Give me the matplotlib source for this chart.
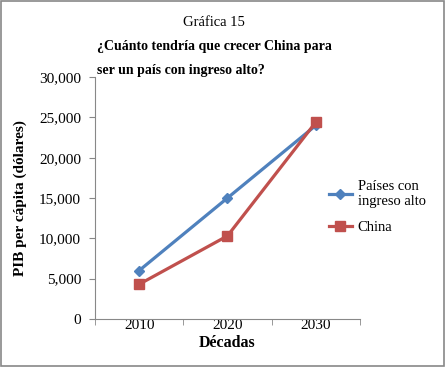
import matplotlib
matplotlib.use("Agg")
import matplotlib.pyplot as plt
from matplotlib.patches import Rectangle

# datos
decadas = ["2010", "2020", "2030"]
altos = [6000, 15000, 24000]
china = [4300, 10300, 24400]
yticks = [0, 5000, 10000, 15000, 20000, 25000, 30000]

plt.rcParams['font.family'] = ['Liberation Serif', 'DejaVu Serif']

fig = plt.figure(figsize=(4.46, 3.67), dpi=100)
fig.patches.append(Rectangle((0.002, 0.003), 0.994, 0.993, transform=fig.transFigure,
                             fill=False, edgecolor='#888888', linewidth=1.2))

ax = fig.add_axes([0.213, 0.131, 0.594, 0.659])
x = list(range(len(decadas)))
ax.plot(x, altos, color='#4F81BD', linewidth=2.3, marker='D', markersize=5.5,
        label='Países con\ningreso alto')
ax.plot(x, china, color='#C0504D', linewidth=2.3, marker='s', markersize=7.5,
        label='China')

ax.set_xlim(-0.5, 2.5)
ax.set_ylim(0, 30000)
ax.set_yticks(yticks)
ax.set_yticklabels([f"{v:,}" for v in yticks])
ax.set_xticks(x)
ax.set_xticklabels(decadas)
ax.set_xticks([-0.5, 0.5, 1.5, 2.5], minor=True)
ax.tick_params(axis='x', which='major', length=0, labelsize=11, pad=0)
ax.tick_params(axis='x', which='minor', length=4, color='#888888')
ax.tick_params(axis='y', length=4, color='#888888', labelsize=11, pad=6)
for s in ['top', 'right']:
    ax.spines[s].set_visible(False)
for s in ['left', 'bottom']:
    ax.spines[s].set_color('#888888')

ax.set_xlabel('Décadas', fontweight='bold', fontsize=11.5, labelpad=2)
ax.set_ylabel('PIB per cápita (dólares)', fontweight='bold', fontsize=11, labelpad=9)

fig.text(0.48, 0.94, 'Gráfica 15', ha='center', va='center', fontsize=10.5)
fig.text(0.217, 0.872, '¿Cuánto tendría que crecer China para',
         ha='left', va='center', fontsize=10, fontweight='bold')
fig.text(0.217, 0.809, 'ser un país con ingreso alto?',
         ha='left', va='center', fontsize=10, fontweight='bold')

ax.legend(loc='upper left', bbox_to_anchor=(0.86, 0.60), frameon=False, fontsize=10.5,
          handlelength=1.6, labelspacing=0.9, handletextpad=0.4, borderaxespad=0)

fig.savefig('out.png', dpi=100)
